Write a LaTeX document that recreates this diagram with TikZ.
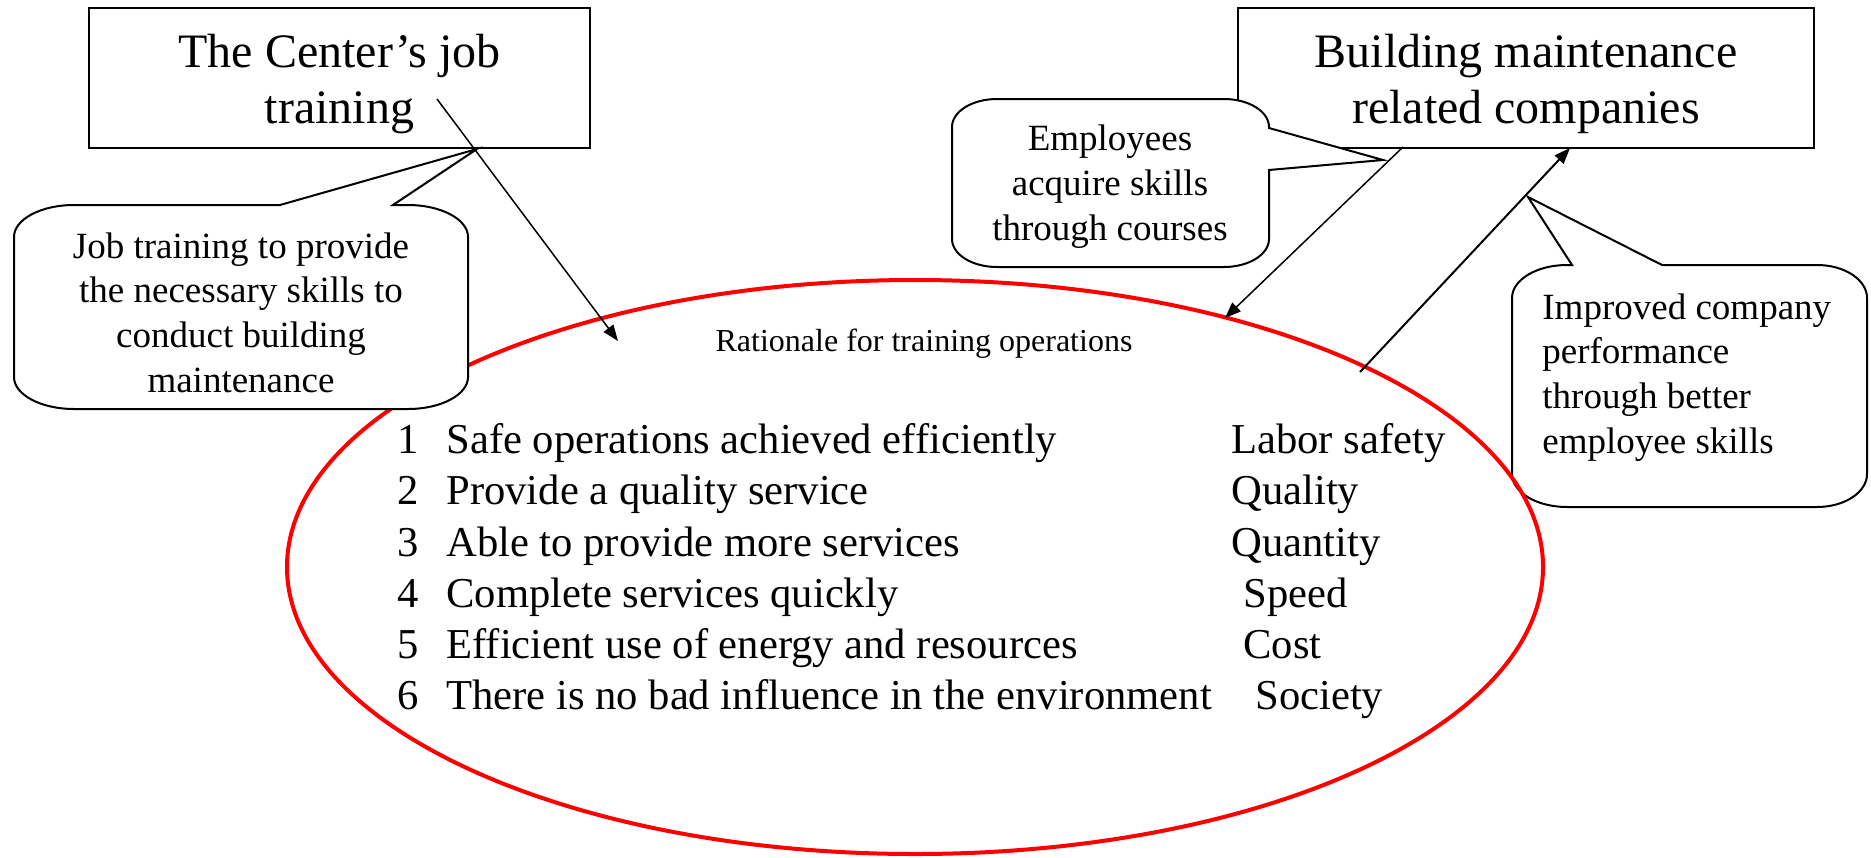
\documentclass[tikz,border=0pt]{standalone}
\usepackage{fontspec}
\setmainfont{Liberation Serif}
\usetikzlibrary{arrows.meta,shapes.geometric}
\begin{document}
\begin{tikzpicture}[x=0.5pt,y=0.5pt,
  bigbox/.style={draw, line width=1.35pt, inner sep=0pt, align=center,
     font=\fontsize{24}{28}\selectfont, text height=50pt, text depth=5pt, minimum height=70pt},
  calloutshape/.style={draw, fill=white, line width=1pt, line join=miter},
  callouttext/.style={font=\fontsize{18.5}{22.3}\selectfont, inner sep=0pt},
  conn/.style={-{Triangle[length=8pt,width=6pt]}, line width=0.75pt},
  itemtext/.style={anchor=base west, inner sep=0pt, font=\fontsize{21.3}{25}\selectfont},
]
\useasboundingbox (0,0) rectangle (1871,-857);

% main boxes
\node[bigbox, minimum width=250.5pt] (center) at (339.5,-78) {The Center’s job\\training};
\node[bigbox, minimum width=288pt] (companies) at (1526,-78) {Building maintenance\\related companies};

% callout 3 (below the ellipse)
\draw[calloutshape] (1567,-265) -- (1572,-265) -- (1528,-197) -- (1662,-265) -- (1817,-265)
  arc[start angle=90, end angle=0, x radius=50, y radius=33] -- (1867,-474)
  arc[start angle=0, end angle=-90, x radius=50, y radius=33] -- (1567,-507)
  arc[start angle=270, end angle=180, x radius=55, y radius=33] -- (1512,-298)
  arc[start angle=180, end angle=90, x radius=55, y radius=33] -- cycle;
\node[callouttext, align=left, anchor=base west] (improved) at (1542,-453)
  {Improved company\\performance\\through better\\employee skills};

% ellipse
\node[draw=red, line width=2pt, ellipse, minimum width=628pt, minimum height=287pt, inner sep=0pt] (rationale) at (915,-567) {};

% callout 1 (over the ellipse)
\draw[calloutshape] (74,-205) -- (280,-205) -- (477,-149) -- (393,-205) -- (408,-205)
  arc[start angle=90, end angle=0, x radius=60, y radius=32] -- (468,-377)
  arc[start angle=0, end angle=-90, x radius=60, y radius=32] -- (74,-409)
  arc[start angle=270, end angle=180, x radius=60, y radius=32] -- (14,-237)
  arc[start angle=180, end angle=90, x radius=60, y radius=32] -- cycle;
\node[callouttext, align=center, anchor=base] (jobtraining) at (241,-392)
  {Job training to provide\\the necessary skills to\\conduct building\\maintenance};

% callout 2 (over the right box)
\draw[calloutshape] (997,-99) -- (1224,-99)
  arc[start angle=90, end angle=0, x radius=45, y radius=28] -- (1269,-128) -- (1383,-160) -- (1269,-170) -- (1269,-239)
  arc[start angle=0, end angle=-90, x radius=45, y radius=28] -- (997,-267)
  arc[start angle=270, end angle=180, x radius=45, y radius=28] -- (952,-127)
  arc[start angle=180, end angle=90, x radius=45, y radius=28] -- cycle;
\node[callouttext, align=center, anchor=base] (employees) at (1110,-240)
  {Employees\\acquire skills\\through courses};

% ellipse text
\node[font=\fontsize{16}{19}\selectfont, anchor=base, inner sep=0pt] (title) at (924,-351) {Rationale for training operations};

\node[itemtext] (n1) at (397,-453) {1};
\node[itemtext] (n2) at (397,-504) {2};
\node[itemtext] (n3) at (397,-556) {3};
\node[itemtext] (n4) at (397,-607) {4};
\node[itemtext] (n5) at (397,-658) {5};
\node[itemtext] (n6) at (397,-709) {6};
\node[itemtext] (t1) at (446,-453) {Safe operations achieved efficiently};
\node[itemtext] (t2) at (446,-504) {Provide a quality service};
\node[itemtext] (t3) at (446,-556) {Able to provide more services};
\node[itemtext] (t4) at (446,-607) {Complete services quickly};
\node[itemtext] (t5) at (446,-658) {Efficient use of energy and resources};
\node[itemtext] (t6) at (446,-709) {There is no bad influence in the environment};
\node[itemtext] (v1) at (1231,-453) {Labor safety};
\node[itemtext] (v2) at (1231,-504) {Quality};
\node[itemtext] (v3) at (1231,-556) {Quantity};
\node[itemtext] (v4) at (1243,-607) {Speed};
\node[itemtext] (v5) at (1243,-658) {Cost};
\node[itemtext] (v6) at (1255,-709) {Society};

% connectors
\coordinate (a1s) at (437,-99);
\coordinate (a1e) at (618,-341);
\coordinate (a2s) at (1403,-147);
\coordinate (a2e) at (1225,-318);
\coordinate (a3s) at (1360,-372);
\coordinate (a3e) at (1570,-148);
\draw[conn] (a1s) -- (a1e);
\draw[conn] (a2s) -- (a2e);
\draw[conn, line width=1pt] (a3s) -- (a3e);
\end{tikzpicture}
\end{document}
